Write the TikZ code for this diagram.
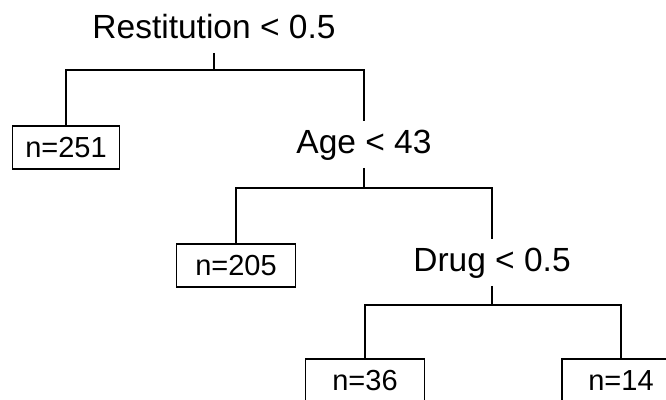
\documentclass[tikz,border=0pt]{standalone}
\usepackage{fontspec}
\setmainfont{Liberation Sans}
\begin{document}
\begin{tikzpicture}[x=1pt,y=-1pt,line width=1.6pt,
  split/.style={font=\fontsize{33.5}{40}\selectfont, anchor=base,
    text height=24pt, text depth=7pt, inner xsep=2pt, inner ysep=7pt},
  leaf/.style={draw, font=\fontsize{29}{35}\selectfont, anchor=north,
    text height=21pt, text depth=0pt, inner sep=0pt, minimum height=43pt}]
\useasboundingbox (0,0) rectangle (666,399);
\clip (0,0) rectangle (666,399);
% split nodes
\node[split] (root) at (214,38) {Restitution < 0.5};
\node[split] (age) at (364,153) {Age < 43};
\node[split] (drug) at (492,271) {Drug < 0.5};
% leaves
\node[leaf, minimum width=107pt] (b251) at (66,125) {n=251};
\node[leaf, minimum width=119pt] (b205) at (236,243) {n=205};
\node[leaf, minimum width=119pt] (b36) at (365,358) {n=36};
\node[leaf, minimum width=118pt] (b14) at (621,358) {n=14};
% junctions
\coordinate (j1) at (214,70);
\coordinate (j2) at (364,188);
\coordinate (j3) at (492,305);
% connectors
\draw (root.south) -- (j1);
\draw (b251.north) |- (j1) -| (age.north);
\draw (age.south) -- (j2);
\draw (b205.north) |- (j2) -| (drug.north);
\draw (drug.south) -- (j3);
\draw (b36.north) |- (j3) -| (b14.north);
\end{tikzpicture}
\end{document}
